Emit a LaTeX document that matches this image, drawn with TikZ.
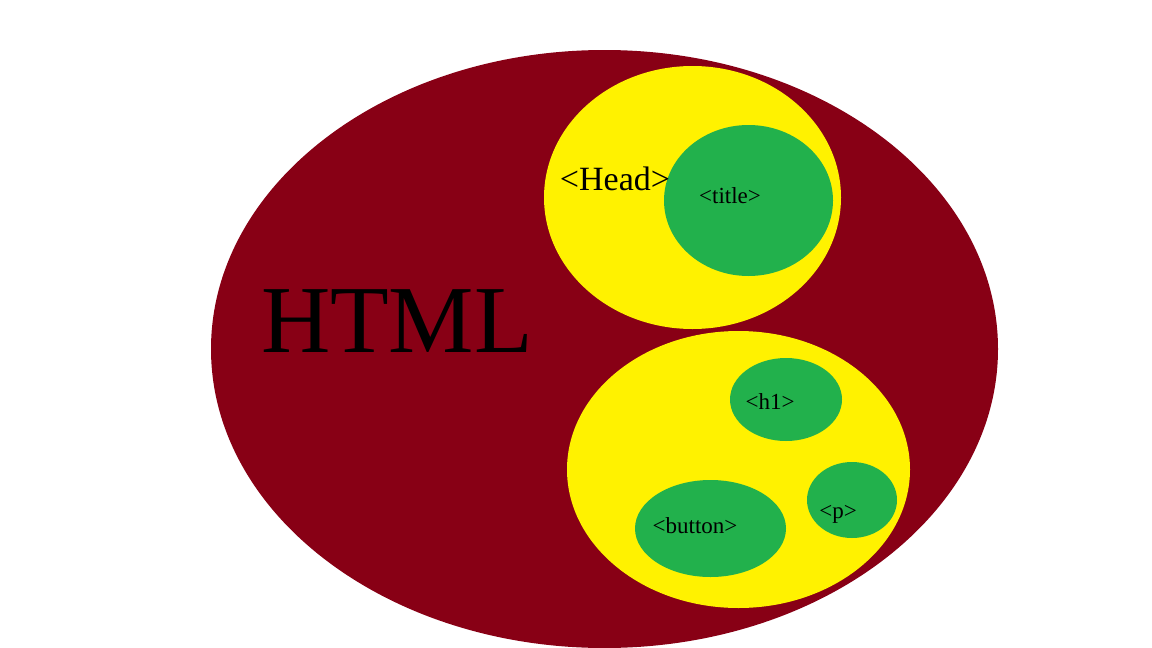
\documentclass[tikz,border=0pt]{standalone}
\usepackage{fontspec}
\setmainfont{Liberation Serif}
\usetikzlibrary{shapes.geometric,positioning}

\begin{document}
\begin{tikzpicture}[x=1pt, y=-1pt]
    % Color Palette
    \definecolor{htmlColor}{HTML}{880015}
    \definecolor{blockColor}{HTML}{FFF200}
    \definecolor{tagColor}{HTML}{22B14C}

    \tikzset{
        blob/.style={ellipse, draw=none, inner sep=0pt},
        tag/.style={anchor=base, inner sep=0pt, font=\fontsize{23}{27}\selectfont}
    }

    \useasboundingbox (0,0) rectangle (1152,648);

    % --- HTML ---
    \node[blob, fill=htmlColor, minimum width=787pt, minimum height=598pt] (html) at (604.5,349) {};
    \node[anchor=base, inner sep=0pt, font=\fontsize{96}{100}\selectfont] (htmlLabel) at (397,352) {HTML};

    % --- Head ---
    \node[blob, fill=blockColor, minimum width=297pt, minimum height=263pt] (head) at (692.5,197.5) {};
    \node[blob, fill=tagColor, minimum width=169pt, minimum height=151pt] (title) at (748.5,200.5) {};
    \node[anchor=base, inner sep=0pt, font=\fontsize{34}{40}\selectfont] (headLabel) at (615,190) {<Head>};
    \node[tag] (titleLabel) at (730,203) {<title>};

    % --- Body ---
    \node[blob, fill=blockColor, minimum width=343pt, minimum height=277pt] (body) at (738.5,469.5) {};
    \node[blob, fill=tagColor, minimum width=112pt, minimum height=83pt] (h1) at (786,399.5) {};
    \node[blob, fill=tagColor, minimum width=90pt, minimum height=76pt] (p) at (852,500) {};
    \node[blob, fill=tagColor, minimum width=151pt, minimum height=97pt] (button) at (710.5,528.5) {};
    \node[tag] (h1Label) at (770,409) {<h1>};
    \node[tag] (pLabel) at (838,518) {<p>};
    \node[tag] (buttonLabel) at (695,533) {<button>};

\end{tikzpicture}
\end{document}
